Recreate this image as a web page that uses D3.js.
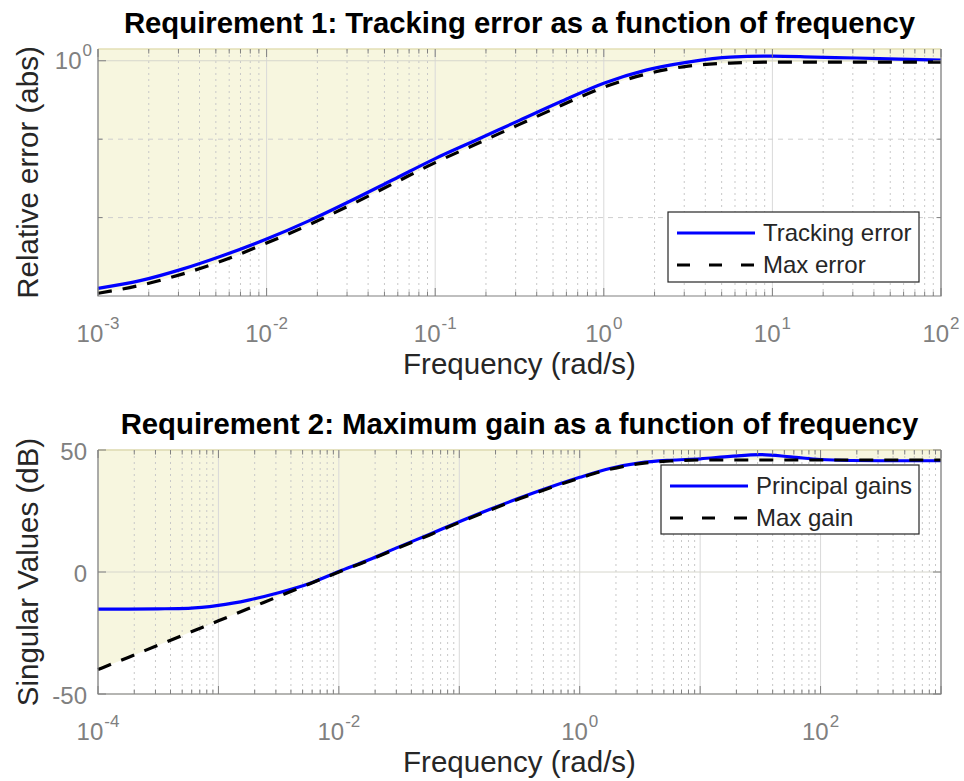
<!DOCTYPE html>
<html><head><meta charset="utf-8">
<script src="https://cdn.jsdelivr.net/npm/d3@7"></script>
<style>body{margin:0;background:#fff} svg{display:block}</style>
</head><body><svg id="c" width="964" height="781"></svg>
<script>
// ---------- DATA ----------
const title1 = "Requirement 1: Tracking error as a function of frequency";
const title2 = "Requirement 2: Maximum gain as a function of frequency";
const xLabel = "Frequency (rad/s)";
const yLabel1 = "Relative error (abs)";
const yLabel2 = "Singular Values (dB)";
const legend1 = ["Tracking error", "Max error"];
const legend2 = ["Principal gains", "Max gain"];

// Panel 1 (log-log)
const freq1 = [0.001, 0.00178, 0.00316, 0.00562, 0.01, 0.0178, 0.0316, 0.0562, 0.1, 0.178, 0.316, 0.562,
               1, 1.78, 3.16, 5.62, 10, 17.8, 31.6, 56.2, 100];
const trackingErr = [0.0354, 0.0396, 0.0469, 0.0577, 0.0730, 0.0953, 0.1280, 0.1744, 0.2378, 0.3148, 0.4168, 0.5515,
                     0.7195, 0.8717, 0.981, 1.056, 1.072, 1.056, 1.041, 1.025, 1.010];
const maxErr = [0.0329, 0.0370, 0.0436, 0.0536, 0.0688, 0.0898, 0.1206, 0.1644, 0.2242, 0.2968, 0.3928, 0.5200,
                0.6784, 0.8219, 0.9248, 0.9667, 0.981, 0.981, 0.981, 0.981, 0.981];
const xTicks1 = [-3, -2, -1, 0, 1, 2];          // exponents of 10
const yTicks1 = [0];                            // labelled exponent
const yMinorGrid1 = [0.3162, 0.1];
const yDomain1 = [0.03162, 1.1885];

// Panel 2 (semilog, dB)
const freq2 = [0.0001, 0.000178, 0.000316, 0.000562, 0.001, 0.00178, 0.00316, 0.00562, 0.01, 0.0178, 0.0316, 0.0562,
               0.1, 0.178, 0.316, 0.562, 1, 1.78, 3.16, 5.62, 10, 17.8, 31.6, 56.2, 100, 178, 316, 562, 1000];
const principalGain = [-15.2, -15.2, -15.1, -14.9, -13.7, -11.5, -8.5, -4.8, 0.2, 5.0, 10.3, 15.4,
                       20.6, 25.6, 30.3, 34.7, 38.8, 42.4, 44.7, 45.8, 46.4, 47.4, 48.1, 47.2, 46.1, 45.7, 45.6, 45.6, 45.6];
const maxGain = [-40, -35, -30, -25, -20, -15, -10, -5, 0, 4.8, 10.0, 15.1,
                 20.3, 25.3, 30.0, 34.4, 38.5, 42.1, 44.4, 45.5, 45.9, 45.9, 45.9, 45.9, 45.9, 45.9, 45.9, 45.9, 45.9];
const xTicks2 = [-4, -2, 0, 2];
const yTicks2 = [-50, 0, 50];
const yDomain2 = [-50, 50];

// ---------- DRAW ----------
const svg = d3.select("#c");
const FONT = "'Liberation Sans', Arial, Helvetica, sans-serif";
const FILL = "#f7f6df";
const AXC = "#808080";

function minorVals(lo, hi) {
  const out = [];
  for (let e = lo; e < hi; e++) for (let k = 2; k <= 9; k++) out.push(k * Math.pow(10, e));
  return out;
}

function panel(o) {
  const g = svg.append("g");
  const x = d3.scaleLog().domain(o.xDomain).range([o.left, o.right]);
  const y = o.logY ? d3.scaleLog().domain(o.yDomain).range([o.bottom, o.top])
                   : d3.scaleLinear().domain(o.yDomain).range([o.bottom, o.top]);
  const pts = o.freq.map((f, i) => ({f, a: o.s1[i], b: o.s2[i]}));

  // fill above bound
  const area = d3.area().x(d => x(d.f)).y0(o.top).y1(d => y(d.b)).curve(d3.curveMonotoneX);
  g.append("path").datum(pts).attr("d", area).attr("fill", FILL);

  // grid
  const lo = Math.round(Math.log10(o.xDomain[0])), hi = Math.round(Math.log10(o.xDomain[1]));
  const minors = minorVals(lo, hi);
  g.selectAll(".mg").data(minors).join("line")
    .attr("x1", d => x(d)).attr("x2", d => x(d)).attr("y1", o.top).attr("y2", o.bottom)
    .attr("stroke", "#c8c8c8").attr("stroke-width", 1).attr("stroke-dasharray", "2,4");
  const majors = d3.range(lo, hi + 1).map(e => Math.pow(10, e));
  g.selectAll(".Mg").data(majors).join("line")
    .attr("x1", d => x(d)).attr("x2", d => x(d)).attr("y1", o.top).attr("y2", o.bottom)
    .attr("stroke", "#d9d9d9").attr("stroke-width", 1);
  if (o.yMinorGrid) {
    g.selectAll(".hm").data(o.yMinorGrid).join("line")
      .attr("x1", o.left).attr("x2", o.right).attr("y1", d => y(d)).attr("y2", d => y(d))
      .attr("stroke", "#cfcfcf").attr("stroke-width", 1).attr("stroke-dasharray", "5,5");
  }
  g.selectAll(".hM").data(o.yGridVals).join("line")
    .attr("x1", o.left).attr("x2", o.right).attr("y1", d => y(d)).attr("y2", d => y(d))
    .attr("stroke", "#d6d6cc").attr("stroke-width", 1);

  // lines
  const line = k => d3.line().x(d => x(d.f)).y(d => y(d[k])).curve(d3.curveMonotoneX);
  g.append("path").datum(pts).attr("d", line("a")).attr("fill", "none")
    .attr("stroke", "#0000ff").attr("stroke-width", 3.2);
  g.append("path").datum(pts).attr("d", line("b")).attr("fill", "none")
    .attr("stroke", "#000").attr("stroke-width", 3.2).attr("stroke-dasharray", "14,11");

  // box
  g.append("line").attr("x1", o.left).attr("x2", o.right).attr("y1", o.top).attr("y2", o.top)
    .attr("stroke", "#e3dfb4").attr("stroke-width", 1.5);
  g.append("path").attr("d", `M${o.left},${o.top}V${o.bottom}H${o.right}V${o.top}`)
    .attr("fill", "none").attr("stroke", AXC).attr("stroke-width", 1.2);

  // x ticks (bottom & top, inward)
  [[o.bottom, -1], [o.top, 1]].forEach(([yy, dir]) => {
    g.selectAll(null).data(minors).join("line")
      .attr("x1", d => x(d)).attr("x2", d => x(d)).attr("y1", yy).attr("y2", yy + dir * 4.5)
      .attr("stroke", AXC).attr("stroke-width", 1);
    g.selectAll(null).data(majors).join("line")
      .attr("x1", d => x(d)).attr("x2", d => x(d)).attr("y1", yy).attr("y2", yy + dir * 8)
      .attr("stroke", AXC).attr("stroke-width", 1);
  });
  // y ticks (left & right)
  [[o.left, 1], [o.right, -1]].forEach(([xx, dir]) => {
    g.selectAll(null).data(o.yTickVals).join("line")
      .attr("x1", xx).attr("x2", xx + dir * 8).attr("y1", d => y(d)).attr("y2", d => y(d))
      .attr("stroke", AXC).attr("stroke-width", 1);
    if (o.yMinorGrid) g.selectAll(null).data(o.yMinorGrid).join("line")
      .attr("x1", xx).attr("x2", xx + dir * 4.5).attr("y1", d => y(d)).attr("y2", d => y(d))
      .attr("stroke", AXC).attr("stroke-width", 1);
  });

  // x tick labels
  o.xTicks.forEach(e => {
    const t = g.append("text").attr("x", x(Math.pow(10, e))).attr("y", o.bottom + 46)
      .attr("text-anchor", "middle").attr("font-family", FONT).attr("fill", "#808080").attr("font-size", 24);
    t.append("tspan").text("10");
    t.append("tspan").attr("font-size", 17).attr("dy", -13).attr("dx", 1).text(e);
  });
  // y tick labels
  o.yTickLabels(g, y);

  // title
  g.append("text").attr("x", (o.left + o.right) / 2).attr("y", o.top - 16)
    .attr("text-anchor", "middle").attr("font-family", FONT).attr("font-weight", "bold")
    .attr("font-size", 29.3).attr("fill", "#000").text(o.title);
  // x label
  g.append("text").attr("x", (o.left + o.right) / 2).attr("y", o.bottom + 78)
    .attr("text-anchor", "middle").attr("font-family", FONT).attr("font-size", 29.5)
    .attr("fill", "#262626").text(xLabel);
  // y label
  g.append("text").attr("transform", `translate(38,${(o.top + o.bottom) / 2}) rotate(-90)`)
    .attr("text-anchor", "middle").attr("font-family", FONT).attr("font-size", 29.5)
    .attr("fill", "#262626").text(o.yLabel);

  // legend
  const L = o.legend;
  g.append("rect").attr("x", L.x).attr("y", L.y).attr("width", L.w).attr("height", L.h)
    .attr("fill", "#fff").attr("stroke", "#262626").attr("stroke-width", 1.2);
  L.names.forEach((n, i) => {
    const yy = L.y + 21 + i * 32;
    g.append("line").attr("x1", L.x + 9).attr("x2", L.x + 87).attr("y1", yy).attr("y2", yy)
      .attr("stroke", i === 0 ? "#0000ff" : "#000").attr("stroke-width", 3.2)
      .attr("stroke-dasharray", i === 0 ? null : "13,19");
    g.append("text").attr("x", L.x + 95).attr("y", yy + 8).attr("font-family", FONT)
      .attr("font-size", 24).attr("fill", "#262626").text(n);
  });
}

panel({
  left: 98, right: 941, top: 49, bottom: 296,
  xDomain: [1e-3, 1e2], yDomain: yDomain1, logY: true,
  freq: freq1, s1: trackingErr, s2: maxErr,
  xTicks: xTicks1, yTickVals: yTicks1.map(e => Math.pow(10, e)),
  yGridVals: yTicks1.map(e => Math.pow(10, e)), yMinorGrid: yMinorGrid1,
  yTickLabels: (g, y) => yTicks1.forEach(e => {
    const t = g.append("text").attr("x", 92).attr("y", y(Math.pow(10, e)) + 8)
      .attr("text-anchor", "end").attr("font-family", FONT).attr("fill", "#808080").attr("font-size", 24);
    t.append("tspan").text("10");
    t.append("tspan").attr("font-size", 17).attr("dy", -13).attr("dx", 1).text(e);
  }),
  title: title1, yLabel: yLabel1,
  legend: {x: 668, y: 212, w: 251, h: 70, names: legend1}
});

panel({
  left: 98, right: 941, top: 450, bottom: 694,
  xDomain: [1e-4, 1e3], yDomain: yDomain2, logY: false,
  freq: freq2, s1: principalGain, s2: maxGain,
  xTicks: xTicks2, yTickVals: yTicks2, yGridVals: yTicks2, yMinorGrid: null,
  yTickLabels: (g, y) => yTicks2.forEach(v => {
    g.append("text").attr("x", 87).attr("y", y(v) + 10)
      .attr("text-anchor", "end").attr("font-family", FONT).attr("fill", "#808080").attr("font-size", 24)
      .text(v);
  }),
  title: title2, yLabel: yLabel2,
  legend: {x: 661, y: 465, w: 258, h: 69, names: legend2}
});
</script></body></html>
